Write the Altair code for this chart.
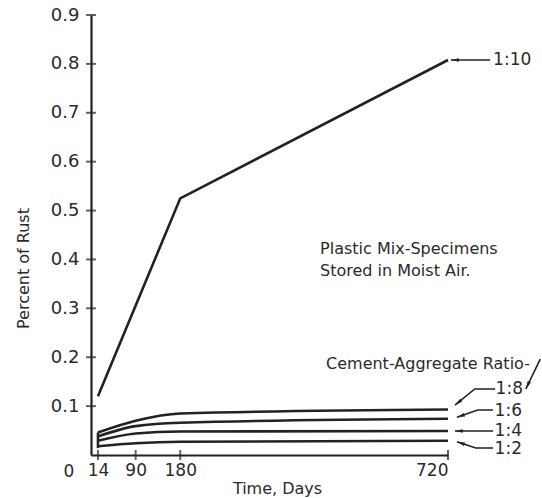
import math
import altair as alt
import pandas as pd

# ---------------- data ----------------
days = [14, 90, 180, 720]
days_r10 = [14, 180, 720]
rust_r10 = [0.12, 0.525, 0.808]
rust_r8 = [0.046, 0.070, 0.085, 0.093]
rust_r6 = [0.038, 0.059, 0.066, 0.074]
rust_r4 = [0.029, 0.044, 0.048, 0.049]
rust_r2 = [0.018, 0.024, 0.027, 0.029]

x_ticks = [14, 90, 180, 720]
y_ticks = [0.1, 0.2, 0.3, 0.4, 0.5, 0.6, 0.7, 0.8, 0.9]

ratio_labels = ["1:10", "1:8", "1:6", "1:4", "1:2"]
note_lines = ["Plastic Mix-Specimens", "Stored in Moist Air."]
legend_title = "Cement-Aggregate Ratio-"

W, H = 357, 440
INK = "#222222"
TXT = "#2a2a2a"
FONT = "DejaVu Sans"

# ---------------- tables ----------------
small = pd.DataFrame(
    [{"ratio": r, "day": d, "rust": v}
     for r, vals in zip(["1:8", "1:6", "1:4", "1:2"], [rust_r8, rust_r6, rust_r4, rust_r2])
     for d, v in zip(days, vals)]
)
big = pd.DataFrame({"ratio": "1:10", "day": days_r10, "rust": rust_r10})
start_bar = pd.DataFrame({"day": [days[0]], "lo": [min(rust_r2[0], rust_r8[0]) - 0.004],
                          "hi": [max(rust_r2[0], rust_r8[0])]})

# annotation placement (data coordinates)
label_pos = pd.DataFrame({
    "text": ratio_labels,
    "x": [811, 816, 814, 814, 814],
    "y": [0.808, 0.135, 0.091, 0.049, 0.012],
})
note_pos = pd.DataFrame({"text": note_lines, "x": [462, 462], "y": [0.421, 0.377]})
legend_pos = pd.DataFrame({"text": [legend_title], "x": [474], "y": [0.186]})

arrows = {
    "1:10": [(805, 0.808), (726, 0.808)],
    "1:8": [(815, 0.135), (774, 0.135), (734, 0.102)],
    "1:6": [(811, 0.092), (780, 0.092), (738, 0.077)],
    "1:4": [(811, 0.049), (734, 0.049)],
    "1:2": [(811, 0.0143), (776, 0.0143), (738, 0.027)],
    "slash": [(906, 0.196), (877, 0.135)],
}
arrow_rows, head_rows = [], []
for name, pts in arrows.items():
    for i, (x, y) in enumerate(pts):
        arrow_rows.append({"id": name, "o": i, "x": x, "y": y})
    (x1, y1), (x2, y2) = pts[-2], pts[-1]
    dxp = (x2 - x1) * W / 720
    dyp = -(y2 - y1) * H / 0.9
    ang = math.degrees(math.atan2(dxp, -dyp)) % 360
    head_rows.append({"x": x2, "y": y2, "ang": ang})
arrow_df = pd.DataFrame(arrow_rows)
head_df = pd.DataFrame(head_rows)

ytick_df = pd.DataFrame({"y": y_ticks})
xtick_df = pd.DataFrame({"x": x_ticks})

# ---------------- scales / axes ----------------
xs = alt.Scale(domain=[0, 720], nice=False, zero=True)
ys = alt.Scale(domain=[0, 0.9], nice=False, zero=True)

x_axis = alt.Axis(values=x_ticks, grid=False, ticks=False, tickSize=0, domainColor=INK,
                  domainWidth=2.2, labelFont=FONT, labelFontSize=17, labelColor=TXT,
                  labelPadding=7, title="Time, Days", titleFont=FONT, titleFontSize=16,
                  titleFontWeight="normal", titleColor=TXT, titleX=186, titleY=33,
                  titleBaseline="middle", titleAlign="center")
y_axis = alt.Axis(values=y_ticks, format=".1f", grid=False, ticks=False, tickSize=0,
                  domainColor=INK, domainWidth=2.2, labelFont=FONT, labelFontSize=18,
                  labelColor=TXT, labelPadding=12, title="Percent of Rust", titleFont=FONT,
                  titleFontSize=16, titleFontWeight="normal", titleColor=TXT, titleX=-68,
                  titleY=253, titleAngle=-90, titleAlign="center", titleBaseline="middle")


def X(f):
    return alt.X(f, type="quantitative", scale=xs, axis=x_axis, title="Time, Days")


def Y(f):
    return alt.Y(f, type="quantitative", scale=ys, axis=y_axis, title="Percent of Rust")


def XD(v):
    return alt.X(datum=v, type="quantitative", scale=xs, axis=x_axis, title="Time, Days")


def YD(v):
    return alt.Y(datum=v, type="quantitative", scale=ys, axis=y_axis, title="Percent of Rust")


line_big = alt.Chart(big).mark_line(color=INK, strokeWidth=2.6).encode(
    x=X("day"), y=Y("rust")
)
line_small = alt.Chart(small).mark_line(color=INK, strokeWidth=2.6, interpolate="monotone").encode(
    x=X("day"), y=Y("rust"), detail="ratio:N"
)
bar14 = alt.Chart(start_bar).mark_rule(color=INK, strokeWidth=2.5).encode(
    x=X("day"), y=Y("lo"), y2="hi"
)

yticks = alt.Chart(ytick_df).mark_tick(orient="horizontal", size=10, thickness=2, color=INK).encode(
    x=XD(0), y=Y("y")
)
xticks = alt.Chart(xtick_df).mark_tick(orient="vertical", size=10, thickness=2, color=INK).encode(
    x=X("x"), y=YD(0)
)
origin = alt.Chart(pd.DataFrame({"t": ["0"]})).mark_text(
    font=FONT, fontSize=17, color=TXT, dx=-22, dy=17, baseline="middle"
).encode(x=XD(0), y=YD(0), text="t:N")

arrow_lines = alt.Chart(arrow_df).mark_line(color=INK, strokeWidth=1.6).encode(
    x=X("x"), y=Y("y"), detail="id:N", order="o:Q"
)
heads = alt.Chart(head_df).mark_point(
    shape="M0,0L0.45,2L-0.45,2Z", filled=True, opacity=1, size=64, color=INK
).encode(x=X("x"), y=Y("y"), angle=alt.Angle("ang:Q", scale=None))

labels = alt.Chart(label_pos).mark_text(
    font=FONT, fontSize=17, color=TXT, align="left", baseline="middle"
).encode(x=X("x"), y=Y("y"), text="text:N")
notes = alt.Chart(note_pos).mark_text(
    font=FONT, fontSize=16, color=TXT, align="left", baseline="middle"
).encode(x=X("x"), y=Y("y"), text="text:N")
legend_t = alt.Chart(legend_pos).mark_text(
    font=FONT, fontSize=16, color=TXT, align="left", baseline="middle"
).encode(x=X("x"), y=Y("y"), text="text:N")

chart = alt.layer(
    line_big, line_small, bar14, yticks, xticks, origin, arrow_lines, heads,
    labels, notes, legend_t
).properties(
    width=W, height=H,
    autosize=alt.AutoSizeParams(type="none"),
    padding={"left": 91, "top": 15, "right": 94, "bottom": 43},
    background="white",
).configure_view(stroke=None)

chart.save("out.html", embed_options={"renderer": "svg", "actions": False})
